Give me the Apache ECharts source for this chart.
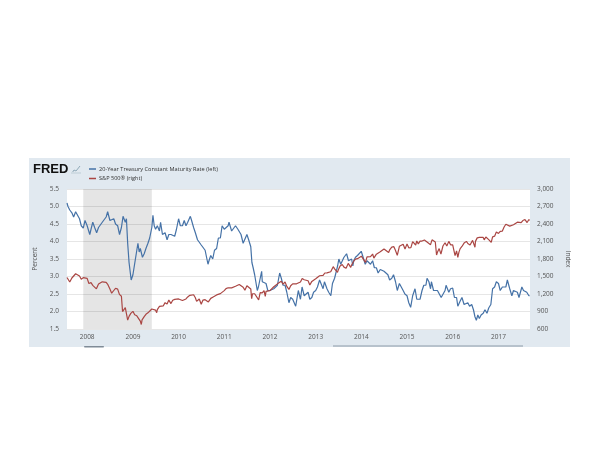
<!DOCTYPE html>
<html>
<head>
<meta charset="utf-8">
<script src="https://cdn.jsdelivr.net/npm/echarts@6/dist/echarts.min.js"></script>
<style>
html,body{margin:0;padding:0;background:#fff;}
#chart{width:600px;height:450px;}
</style>
</head>
<body>
<div id="chart"></div>
<script>
// ---- data ----
const seriesNames = ['20-Year Treasury Constant Maturity Rate (left)', 'S&P 500\u00ae (right)'];
const leftTicks = { min: 1.5, max: 5.5, step: 0.5 };
const rightTicks = { min: 600, max: 3000, step: 300 };
const xRange = ['2007-07-24', '2017-09-10'];
const recession = [['2007-12-01', '2009-06-01']];

const treasuryDates = [
'2007-07-24','2007-08-01','2007-08-15','2007-09-01','2007-09-15','2007-10-01','2007-10-15','2007-11-01','2007-11-15','2007-12-01','2007-12-15',
'2008-01-01','2008-01-22','2008-02-01','2008-02-15','2008-03-01','2008-03-17','2008-04-01','2008-04-15','2008-05-01','2008-05-15','2008-06-01','2008-06-13','2008-07-01','2008-07-15','2008-08-01','2008-08-15','2008-09-01','2008-09-16','2008-10-01','2008-10-14','2008-11-01','2008-11-10','2008-11-20','2008-12-01','2008-12-18',
'2009-01-01','2009-01-15','2009-02-01','2009-02-10','2009-02-20','2009-03-01','2009-03-18','2009-04-01','2009-04-15','2009-05-01','2009-05-15','2009-06-01','2009-06-10','2009-06-20','2009-07-01','2009-07-15','2009-08-01','2009-08-10','2009-08-25','2009-09-01','2009-09-15','2009-10-01','2009-10-15','2009-11-01','2009-11-15','2009-12-01','2009-12-15',
'2010-01-01','2010-01-15','2010-02-01','2010-02-15','2010-03-01','2010-03-15','2010-04-05','2010-04-15','2010-05-01','2010-05-15','2010-06-01','2010-06-15','2010-07-01','2010-07-15','2010-08-01','2010-08-24','2010-09-01','2010-09-15','2010-10-01','2010-10-15','2010-11-01','2010-11-15','2010-12-01','2010-12-15',
'2011-01-01','2011-01-15','2011-02-01','2011-02-08','2011-02-15','2011-03-01','2011-03-15','2011-04-01','2011-04-10','2011-04-20','2011-05-01','2011-05-15','2011-06-01','2011-06-15','2011-07-01','2011-07-15','2011-08-01','2011-08-10','2011-08-20','2011-09-01','2011-09-22','2011-10-01','2011-10-27','2011-11-01','2011-11-15','2011-12-01','2011-12-15',
'2012-01-01','2012-01-15','2012-02-01','2012-02-15','2012-03-01','2012-03-19','2012-04-01','2012-04-15','2012-05-01','2012-05-15','2012-06-01','2012-06-15','2012-07-01','2012-07-25','2012-08-01','2012-08-15','2012-09-01','2012-09-14','2012-10-01','2012-10-15','2012-11-01','2012-11-15','2012-12-01','2012-12-15',
'2013-01-01','2013-01-15','2013-02-01','2013-02-15','2013-03-01','2013-03-12','2013-04-01','2013-04-15','2013-05-02','2013-05-15','2013-06-01','2013-06-15','2013-06-25','2013-07-05','2013-07-20','2013-08-01','2013-08-15','2013-09-05','2013-09-20','2013-10-01','2013-10-15','2013-10-25','2013-11-01','2013-11-15','2013-12-01','2013-12-15','2013-12-31',
'2014-01-15','2014-02-01','2014-02-15','2014-03-01','2014-03-15','2014-04-01','2014-04-15','2014-05-01','2014-05-15','2014-06-01','2014-06-15','2014-07-01','2014-07-15','2014-08-01','2014-08-15','2014-09-01','2014-09-15','2014-10-01','2014-10-15','2014-11-01','2014-11-15','2014-12-01','2014-12-15',
'2015-01-01','2015-01-15','2015-01-30','2015-02-15','2015-03-06','2015-03-20','2015-04-01','2015-04-15','2015-05-01','2015-05-15','2015-06-01','2015-06-10','2015-06-25','2015-07-08','2015-07-15','2015-08-01','2015-08-15','2015-09-01','2015-09-15','2015-10-01','2015-10-15','2015-11-01','2015-11-09','2015-12-01','2015-12-15',
'2016-01-01','2016-01-15','2016-02-01','2016-02-11','2016-03-01','2016-03-15','2016-04-01','2016-04-15','2016-05-01','2016-05-15','2016-06-01','2016-06-15','2016-06-27','2016-07-08','2016-07-20','2016-08-01','2016-08-15','2016-09-01','2016-09-15','2016-10-01','2016-10-15','2016-11-01','2016-11-15','2016-12-01','2016-12-15',
'2017-01-01','2017-01-15','2017-02-01','2017-02-15','2017-03-01','2017-03-13','2017-04-01','2017-04-18','2017-05-01','2017-05-15','2017-06-01','2017-06-14','2017-07-07','2017-07-20','2017-08-01','2017-08-15','2017-09-01','2017-09-08'
];
const treasuryValues = [
5.10,5.00,4.90,4.82,4.70,4.85,4.82,4.65,4.45,4.38,4.60,
4.45,4.20,4.35,4.55,4.40,4.25,4.40,4.45,4.55,4.60,4.70,4.85,4.60,4.55,4.65,4.50,4.45,4.20,4.40,4.72,4.55,4.65,3.95,3.40,2.90,
3.05,3.10,3.75,3.95,3.70,3.80,3.55,3.65,3.80,3.95,4.10,4.40,4.75,4.45,4.35,4.45,4.30,4.55,4.20,4.20,4.25,4.05,4.20,4.20,4.20,4.15,4.35,
4.65,4.45,4.45,4.60,4.45,4.55,4.72,4.60,4.40,4.25,4.05,4.10,3.90,3.85,3.75,3.35,3.45,3.60,3.50,3.75,3.80,4.10,4.10,4.45,
4.35,4.40,4.45,4.55,4.50,4.30,4.25,4.45,4.50,4.35,4.30,4.20,3.95,4.00,4.20,4.05,3.85,3.40,3.25,3.05,2.60,2.70,3.15,2.85,2.85,2.80,2.60,
2.60,2.60,2.65,2.70,2.75,3.10,2.95,2.75,2.75,2.55,2.25,2.40,2.35,2.15,2.30,2.60,2.35,2.70,2.45,2.50,2.55,2.35,2.40,2.55,
2.60,2.70,2.90,2.85,2.65,2.85,2.65,2.55,2.45,2.80,2.95,2.90,3.30,3.50,3.35,3.40,3.55,3.65,3.45,3.45,3.50,3.30,3.45,3.55,3.60,3.60,3.72,
3.55,3.35,3.45,3.40,3.35,3.45,3.25,3.25,3.10,3.20,3.25,3.15,3.10,3.05,2.90,2.95,3.05,2.85,2.60,2.80,2.80,2.60,2.50,
2.45,2.25,2.12,2.45,2.65,2.35,2.30,2.35,2.60,2.75,2.75,2.95,2.85,2.65,2.85,2.60,2.60,2.60,2.65,2.40,2.45,2.60,2.75,2.55,2.65,
2.67,2.40,2.40,2.15,2.30,2.40,2.20,2.20,2.25,2.15,2.20,2.05,1.85,1.75,1.90,1.80,1.90,1.95,2.05,1.95,2.10,2.20,2.65,2.70,2.85,
2.80,2.60,2.70,2.70,2.70,2.90,2.65,2.45,2.60,2.65,2.55,2.40,2.70,2.60,2.60,2.55,2.45,2.45
];

const spDates = [
'2007-07-24','2007-08-01','2007-08-15','2007-09-01','2007-09-15','2007-10-01','2007-10-15','2007-11-01','2007-11-15','2007-12-01','2007-12-15',
'2008-01-01','2008-01-15','2008-02-01','2008-02-15','2008-03-01','2008-03-15','2008-04-01','2008-04-15','2008-05-01','2008-05-15','2008-06-01','2008-06-15','2008-07-01','2008-07-15','2008-08-01','2008-08-15','2008-09-01','2008-09-15','2008-10-01','2008-10-10','2008-10-15','2008-11-01','2008-11-20','2008-12-01','2008-12-15',
'2009-01-01','2009-01-15','2009-02-01','2009-02-15','2009-03-01','2009-03-09','2009-03-15','2009-04-01','2009-04-15','2009-05-01','2009-05-15','2009-06-01','2009-06-15','2009-07-01','2009-07-10','2009-07-15','2009-08-01','2009-08-15','2009-09-01','2009-09-15','2009-10-01','2009-10-15','2009-11-01','2009-11-15','2009-12-01','2009-12-15',
'2010-01-01','2010-01-15','2010-02-01','2010-02-08','2010-02-15','2010-03-01','2010-03-15','2010-04-01','2010-04-15','2010-05-01','2010-05-15','2010-05-25','2010-06-01','2010-06-15','2010-07-01','2010-07-15','2010-08-01','2010-08-15','2010-08-27','2010-09-01','2010-09-15','2010-10-01','2010-10-15','2010-11-01','2010-11-15','2010-12-01','2010-12-15',
'2011-01-01','2011-01-15','2011-02-01','2011-02-15','2011-03-01','2011-03-15','2011-04-01','2011-04-15','2011-05-01','2011-05-15','2011-06-01','2011-06-15','2011-07-01','2011-07-15','2011-08-01','2011-08-08','2011-08-15','2011-09-01','2011-09-15','2011-10-03','2011-10-15','2011-11-01','2011-11-15','2011-11-25','2011-12-01','2011-12-15',
'2012-01-01','2012-01-15','2012-02-01','2012-02-15','2012-03-01','2012-03-15','2012-04-01','2012-04-15','2012-05-01','2012-05-15','2012-06-01','2012-06-15','2012-07-01','2012-07-15','2012-08-01','2012-08-15','2012-09-01','2012-09-15','2012-10-01','2012-10-15','2012-11-01','2012-11-15','2012-12-01','2012-12-15',
'2013-01-01','2013-01-15','2013-02-01','2013-02-15','2013-03-01','2013-03-15','2013-04-01','2013-04-15','2013-05-01','2013-05-21','2013-06-01','2013-06-24','2013-07-01','2013-07-15','2013-08-01','2013-08-15','2013-09-01','2013-09-18','2013-10-08','2013-10-15','2013-11-01','2013-11-15','2013-12-01','2013-12-15',
'2014-01-01','2014-01-15','2014-02-03','2014-02-15','2014-03-01','2014-03-15','2014-04-01','2014-04-11','2014-05-01','2014-05-15','2014-06-01','2014-06-15','2014-07-01','2014-07-15','2014-08-07','2014-08-15','2014-09-01','2014-09-18','2014-10-01','2014-10-15','2014-11-01','2014-11-15','2014-12-01','2014-12-16',
'2015-01-01','2015-01-15','2015-02-01','2015-02-15','2015-03-01','2015-03-11','2015-03-20','2015-04-01','2015-04-15','2015-05-01','2015-05-20','2015-06-01','2015-06-15','2015-07-08','2015-07-20','2015-08-01','2015-08-15','2015-08-25','2015-09-01','2015-09-15','2015-09-29','2015-10-15','2015-11-01','2015-11-15','2015-12-01','2015-12-15',
'2016-01-01','2016-01-20','2016-02-01','2016-02-11','2016-02-20','2016-03-01','2016-03-15','2016-04-01','2016-04-20','2016-05-01','2016-05-19','2016-06-08','2016-06-27','2016-07-01','2016-07-15','2016-08-01','2016-08-15','2016-09-01','2016-09-09','2016-09-22','2016-10-01','2016-10-15','2016-11-04','2016-11-15','2016-12-01','2016-12-15',
'2017-01-01','2017-01-15','2017-02-01','2017-02-15','2017-03-01','2017-03-15','2017-04-01','2017-04-13','2017-05-01','2017-05-15','2017-06-01','2017-06-15','2017-07-01','2017-07-15','2017-08-01','2017-08-18','2017-09-01','2017-09-08'
];
const spValues = [
1483,1465,1406,1474,1484,1547,1548,1508,1452,1481,1467,
1468,1380,1395,1349,1331,1288,1370,1351,1409,1424,1400,1360,1284,1214,1260,1298,1283,1193,1161,899,908,966,752,816,868,
903,843,826,826,735,677,756,811,852,877,882,943,923,923,880,932,987,1004,998,1052,1030,1096,1036,1093,1108,1107,
1115,1136,1089,1056,1075,1115,1150,1178,1211,1187,1136,1074,1070,1115,1023,1096,1102,1080,1064,1080,1125,1146,1176,1184,1197,1206,1236,
1258,1293,1307,1336,1306,1281,1332,1320,1363,1338,1315,1266,1340,1316,1287,1119,1204,1204,1209,1099,1224,1219,1257,1159,1244,1215,
1258,1289,1324,1343,1374,1403,1419,1370,1405,1331,1278,1342,1374,1356,1375,1405,1406,1465,1444,1440,1427,1353,1416,1413,
1462,1472,1513,1520,1518,1560,1562,1552,1582,1669,1631,1573,1614,1682,1706,1661,1640,1725,1656,1698,1762,1798,1806,1775,
1848,1848,1741,1838,1859,1841,1885,1815,1883,1870,1924,1937,1973,1973,1910,1955,2003,2011,1946,1862,2018,2039,2053,1972,
2059,1992,1995,2097,2105,2040,2108,2059,2106,2108,2125,2111,2084,2046,2128,2103,2091,1868,1914,1978,1884,2023,2079,2023,2102,2043,
2044,1859,1940,1829,1918,1978,2015,2073,2102,2065,2040,2119,2001,2102,2162,2170,2190,2170,2128,2177,2168,2133,2085,2180,2191,2262,
2239,2275,2279,2349,2396,2385,2363,2329,2388,2402,2431,2433,2423,2459,2476,2425,2476,2461
];

// ---- chart ----
const FONT = "'Open Sans', 'Liberation Sans', sans-serif";
const zip = (d, v) => d.map((x, i) => [x, v[i]]);

const chart = echarts.init(document.getElementById('chart'), null, { renderer: 'canvas' });
chart.setOption({
  animation: false,
  backgroundColor: '#ffffff',
  textStyle: { fontFamily: FONT },
  graphic: [
    { type: 'rect', z: -10, shape: { x: 29, y: 158, width: 541, height: 189 }, style: { fill: '#e1e9f0' } },
    { type: 'text', z: 10, left: 33, top: 163, style: { text: 'FRED', font: "bold 13px 'Liberation Sans', sans-serif", fill: '#111' } },
    { type: 'polyline', z: 10, shape: { points: [[72, 173], [74, 170], [76, 171], [80, 166]] }, style: { stroke: '#8fa9b8', lineWidth: 1, fill: null } },
    { type: 'rect', z: 10, shape: { x: 71, y: 172, width: 10, height: 2 }, style: { fill: '#cfdbe3' } },
    { type: 'rect', z: -5, shape: { x: 333, y: 345, width: 190, height: 2 }, style: { fill: '#b7c2cc' } },
    { type: 'rect', z: -5, shape: { x: 84, y: 346, width: 20, height: 1.5, r: 1 }, style: { fill: '#7f8b97' } }
  ],
  legend: {
    orient: 'vertical', left: 84, top: 161, itemWidth: 7, itemHeight: 1.5, itemGap: 3.5, icon: 'rect',
    textStyle: { fontSize: 5.6, color: '#333', fontFamily: FONT, padding: [0, 0, 0, -2] },
    data: seriesNames
  },
  grid: { left: 67, right: 70, top: 189, bottom: 121, show: true, backgroundColor: '#ffffff', borderWidth: 0 },
  xAxis: {
    type: 'time', min: xRange[0], max: xRange[1],
    minInterval: 365 * 24 * 3600 * 1000, maxInterval: 366 * 24 * 3600 * 1000,
    axisLine: { show: false }, axisTick: { show: false }, splitLine: { show: false },
    axisLabel: { formatter: '{yyyy}', fontSize: 6.5, color: '#555', margin: 5, showMinLabel: false, showMaxLabel: false, hideOverlap: false }
  },
  yAxis: [
    {
      type: 'value', min: leftTicks.min, max: leftTicks.max, interval: leftTicks.step,
      name: 'Percent', nameLocation: 'middle', nameGap: 21, nameTextStyle: { fontSize: 6.5, color: '#555' },
      axisLine: { show: false }, axisTick: { show: false },
      axisLabel: { fontSize: 6.5, color: '#555', margin: 8, formatter: v => v.toFixed(1) },
      splitLine: { lineStyle: { color: '#e6e6e6', width: 1 } }
    },
    {
      type: 'value', min: rightTicks.min, max: rightTicks.max, interval: rightTicks.step,
      name: 'Index', nameLocation: 'middle', nameGap: 26, nameRotate: -90, nameTextStyle: { fontSize: 6.5, color: '#555' },
      axisLine: { show: false }, axisTick: { show: false },
      axisLabel: { fontSize: 6.5, color: '#555', margin: 7, formatter: v => v.toLocaleString('en-US') },
      splitLine: { show: false }
    }
  ],
  series: [
    {
      name: seriesNames[0], type: 'line', yAxisIndex: 0, showSymbol: false, symbol: 'none',
      lineStyle: { color: '#4572a7', width: 1.2 }, itemStyle: { color: '#4572a7' },
      data: zip(treasuryDates, treasuryValues),
      markArea: {
        silent: true,
        itemStyle: { color: 'rgba(0,0,0,0.1)' },
        data: recession.map(r => [{ xAxis: r[0] }, { xAxis: r[1] }])
      }
    },
    {
      name: seriesNames[1], type: 'line', yAxisIndex: 1, showSymbol: false, symbol: 'none',
      lineStyle: { color: '#aa4643', width: 1.2 }, itemStyle: { color: '#aa4643' },
      data: zip(spDates, spValues)
    }
  ]
});
</script>
</body>
</html>
